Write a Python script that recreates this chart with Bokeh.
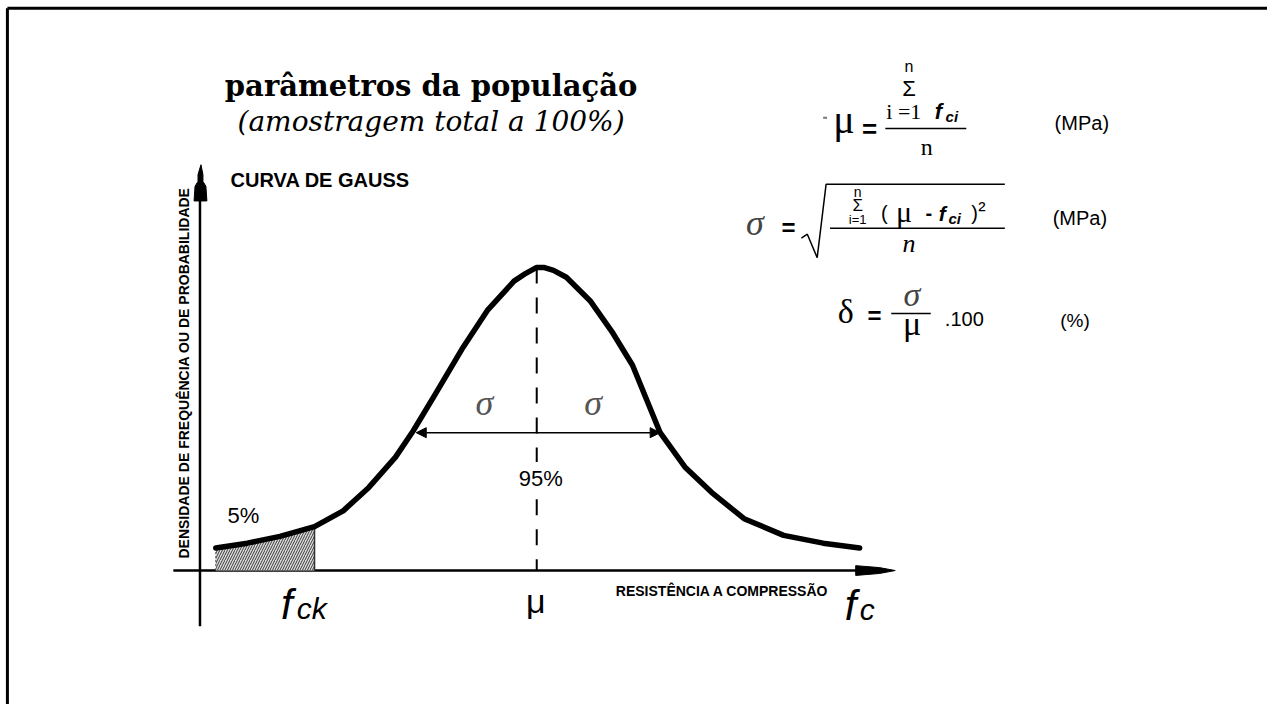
from bokeh.plotting import figure
from bokeh.models import Range1d, Arrow, NormalHead
from bokeh.core.properties import value
from bokeh.embed import file_html
from bokeh.resources import INLINE

# ---- data (diagram pixel space) ----
curve_fc = [218, 250, 283, 318, 347, 373, 400, 418, 440, 467, 493, 520, 532, 543,
            550, 560, 573, 597, 620, 640, 668, 693, 720, 753, 793, 833, 870]
curve_density = [560, 555, 548, 538, 522, 498, 467, 440, 403, 357, 317, 287, 279, 273,
                 273, 276, 283, 307, 340, 373, 442, 477, 503, 530, 547, 555, 560]
fck_value = 318
mu_value = 543
sigma_left = 421
sigma_right = 668
sigma_level = 442
axis_y = 583
axis_x = 202

title_text = "parâmetros da população"
subtitle_text = "(amostragem total a 100%)"
chart_title = "CURVA DE GAUSS"
y_label = "DENSIDADE DE FREQUÊNCIA OU DE PROBABILIDADE"
x_label = "RESISTÊNCIA A COMPRESSÃO"
pct_low = "5%"
pct_mid = "95%"

SANS = "Liberation Sans"
SERIF = "Liberation Serif"

p = figure(width=1267, height=704, x_range=Range1d(0, 1283), y_range=Range1d(720, 0),
           output_backend="svg", toolbar_location=None, min_border=0,
           x_axis_type=None, y_axis_type=None)
p.grid.visible = False
p.outline_line_color = None
p.background_fill_color = "white"
p.border_fill_color = "white"


def txt(x, y, s, size, font=SANS, style="normal", align="center",
        color="black", angle=0.0):
    p.text(x=[x], y=[y], text=[s], text_font=value(font), text_font_size=size,
           text_font_style=style, text_align=align, text_baseline="middle",
           text_color=color, angle=angle)


# slide border
p.line([7, 7], [8, 720], line_color="black", line_width=3)
p.line([7, 1283], [8, 8], line_color="black", line_width=3)

# titles
txt(436, 87, title_text, "29px", font="DejaVu Serif", style="bold")
txt(436, 124, subtitle_text, "28px", font="DejaVu Serif", style="italic")
txt(233, 184, chart_title, "20px", style="bold", align="left")

# axes
p.line([axis_x, axis_x], [640, 200], line_color="black", line_width=2.5)
p.patch([203, 205, 205, 208, 209, 196, 197, 200, 200],
        [168, 178, 185, 190, 205, 205, 190, 185, 178], color="black")
p.line([175, 875], [axis_y, axis_y], line_color="black", line_width=2.5)
p.patch([866, 890, 906, 890, 866], [578, 580, 583, 586, 588], color="black")

# axis labels
txt(186, 381, y_label, "14px", style="bold", angle=1.5708)
txt(731, 604, x_label, "14px", style="bold")

# hatched 5% area
hx = [x for x in curve_fc if x <= fck_value]
hy = curve_density[:len(hx)]
p.varea(x=hx, y1=[axis_y] * len(hx), y2=hy, fill_color="#dcdcdc",
        hatch_pattern="/", hatch_color="#3a3a3a", hatch_scale=5, hatch_weight=1)
p.line([fck_value, fck_value], [hy[-1], axis_y], line_color="#333333", line_width=1.5)
p.line([hx[0], hx[0]], [hy[0], axis_y], line_color="#555555", line_width=1, line_dash="2 2")

# mean dashed line (interrupted around the 95% label)
p.line([mu_value, mu_value], [273, 472], line_color="black", line_width=2, line_dash="16 14")
p.line([mu_value, mu_value], [510, axis_y], line_color="black", line_width=2, line_dash="16 14")

# gauss curve
p.line(curve_fc, curve_density, line_color="black", line_width=5.5, line_join="round", line_cap="round")

# sigma arrow
p.add_layout(Arrow(start=NormalHead(size=10, fill_color="black", line_color="black"),
                   end=NormalHead(size=10, fill_color="black", line_color="black"),
                   x_start=sigma_left, y_start=sigma_level, x_end=sigma_right, y_end=sigma_level,
                   line_width=1.5, line_color="black"))
txt(490, 412, "σ", "36px", font=SERIF, style="italic", color="#555555")
txt(600, 412, "σ", "36px", font=SERIF, style="italic", color="#555555")

# percent labels
txt(246, 527, pct_low, "22px")
txt(547, 489, pct_mid, "22px")

# bottom labels
txt(284, 618, "f", "42px", style="italic", align="left")
txt(300, 622, "ck", "30px", style="italic", align="left")
txt(542, 614, "μ", "34px")
txt(855, 619, "f", "42px", style="italic", align="left")
txt(870, 623, "c", "30px", style="italic", align="left")

# ---- formulas ----
# mu
p.line([833, 837], [120, 120], line_color="#777777", line_width=2)
txt(854, 122, "μ", "40px", font=SERIF)
txt(880, 131, "=", "26px", style="bold")
p.line([896, 978], [131, 131], line_color="black", line_width=1.5)
txt(920, 67, "n", "16px")
txt(920, 90, "Σ", "22px")
txt(897, 114, "i =1", "22px", font=SERIF, align="left")
txt(946, 114, "f", "22px", style="bold italic", align="left")
txt(957, 119, "ci", "15px", style="bold italic", align="left")
txt(938, 150, "n", "24px", font=SERIF)
txt(1095, 125, "(MPa)", "20px")

# sigma
txt(764, 228, "σ", "36px", font=SERIF, style="italic", color="#444444")
txt(798, 232, "=", "24px", style="bold")
p.line([811, 817, 827, 836, 1017], [243, 239, 263, 188, 188], line_color="black", line_width=1.5)
p.line([840, 1017], [233, 233], line_color="black", line_width=1.5)
txt(868, 196, "n", "14px")
txt(868, 210, "Σ", "17px")
txt(868, 224, "i=1", "13px")
txt(895, 217, "(", "20px")
txt(915, 216, "μ", "30px", font=SERIF)
txt(940, 217, "-", "20px", style="bold")
txt(950, 218, "f", "21px", style="bold italic", align="left")
txt(960, 223, "ci", "15px", style="bold italic", align="left")
txt(983, 217, ")", "20px", align="left")
txt(990, 214, "²", "22px", align="left")
txt(920, 249, "n", "26px", font=SERIF, style="italic")
txt(1093, 222, "(MPa)", "20px")

# delta
txt(856, 318, "δ", "34px", font=SERIF)
txt(885, 322, "=", "24px", style="bold")
p.line([902, 942], [320, 320], line_color="black", line_width=1.5)
txt(923, 301, "σ", "34px", font=SERIF, style="italic", color="#444444")
txt(923, 330, "μ", "34px", font=SERIF)
txt(976, 326, ".100", "20px")
txt(1088, 327, "(%)", "19px")

open("out.html", "w").write(file_html(p, INLINE))
